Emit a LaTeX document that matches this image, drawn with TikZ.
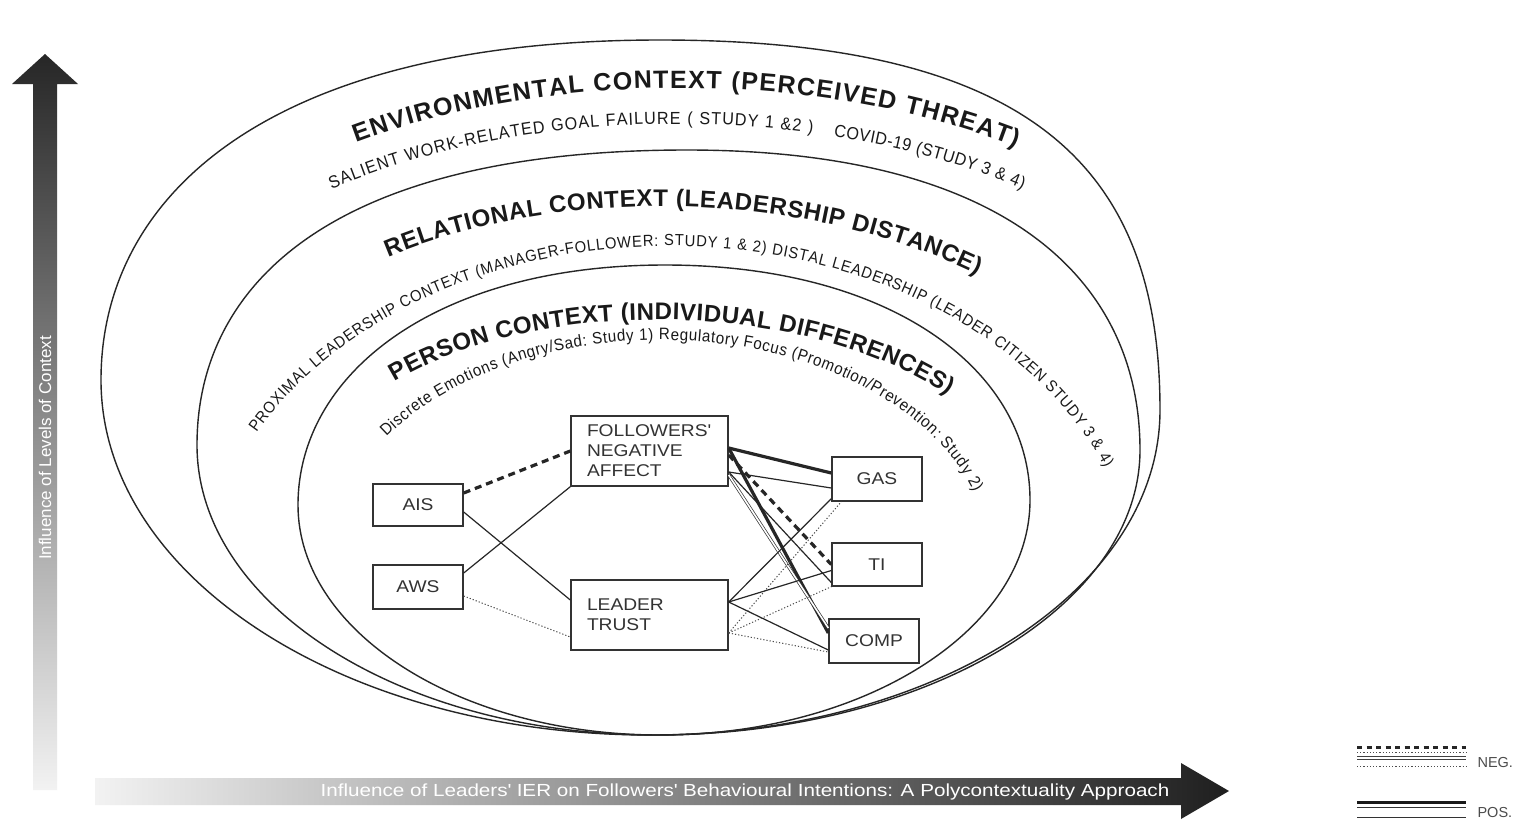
\documentclass[tikz,border=0pt]{standalone}
\usepackage{fontspec}
\setmainfont{Liberation Sans}
\newfontfamily\widesans[FakeStretch=1.13]{Liberation Sans}
\newfontfamily\widersans[FakeStretch=1.18]{Liberation Sans}
\newfontfamily\narrowsans[FakeStretch=0.92]{Liberation Sans}
\usetikzlibrary{decorations.text}

\newcommand\headfont{\fontsize{24}{28}\selectfont\bfseries}
\newcommand\bigheadfont{\fontsize{25}{29}\selectfont\bfseries}
\newcommand\arcfont{\narrowsans\fontsize{17.5}{20}\selectfont}
\newcommand\smallarcfont{\narrowsans\fontsize{16}{19}\selectfont}
\newcommand\tinyarcfont{\narrowsans\fontsize{16.5}{19}\selectfont}

\begin{document}
\begin{tikzpicture}[x=1pt,y=-1pt,
  ctx/.style={draw=black!85, line width=1.4pt},
  box/.style={draw=black!80, line width=1.4pt, rectangle, inner sep=0pt, fill=white,
    font=\widesans\fontsize{17}{20}\selectfont, text=black!80},
  posthick/.style={draw=black!85, line width=3.2pt},
  negthick/.style={draw=black!85, line width=3.2pt, dash pattern=on 7pt off 5pt},
  thinline/.style={draw=black!85, line width=1.2pt},
  dbl/.style={draw=black!80, line width=0.7pt, double=white, double distance=1.6pt},
  dotline/.style={draw=black!70, line width=1pt, dash pattern=on 1.2pt off 2pt},
  arclabel/.style={decorate, decoration={text along path, text color=black!90,
    text align={fit to path}, text={#1}}},
  legendlbl/.style={font=\fontsize{14.5}{16}\selectfont, text=black!70, anchor=west}
]
\useasboundingbox (0,0) rectangle (1524,820);
\fill[white] (0,0) rectangle (1524,820);

% axis arrows with gradients
\shade[top color=black!85, bottom color=black!5]
  (33,790) -- (33,84) -- (12,84) -- (45,54) -- (78,84) -- (57,84) -- (57,790) -- cycle;
\node[rotate=90, text=white, font=\fontsize{17}{20}\selectfont] (vlabel) at (45,448)
  {Influence of Levels of Context};
\shade[left color=black!5, right color=black!88]
  (95,778) -- (1181,778) -- (1181,763) -- (1229,791) -- (1181,819) -- (1181,805) -- (95,805) -- cycle;
\node[text=white, font=\widersans\fontsize{17.5}{20}\selectfont] (hlabel) at (745,792)
  {Influence of Leaders\textquotesingle{} IER on Followers\textquotesingle{} Behavioural Intentions: A Polycontextuality Approach};

% nested contexts (flat-topped ovals meeting at the bottom)
\draw[ctx] (660,40) .. controls (269,40) and (101,195) .. (101,380)
  .. controls (101,578) and (347,735) .. (650,735)
  .. controls (934,735) and (1160,590) .. (1160,410)
  .. controls (1160,170) and (1035,40) .. cycle;
\draw[ctx] (687,150) .. controls (334,150) and (197,283) .. (197,445)
  .. controls (197,605) and (402,735) .. (655,735)
  .. controls (923,735) and (1140,607) .. (1140,450)
  .. controls (1140,285) and (1013,150) .. cycle;
\draw[ctx] (665,265) .. controls (437,265) and (298,373) .. (298,505)
  .. controls (298,632) and (460,735) .. (660,735)
  .. controls (864,735) and (1030,630) .. (1030,500)
  .. controls (1030,370) and (891,265) .. cycle;

% curved context labels
\path[arclabel={|\bigheadfont|ENVIRONMENTAL CONTEXT (PERCEIVED THREAT)}]
  ([shift={(235:565 and 300)}]680,388) arc[start angle=235, end angle=306.5, x radius=565, y radius=300];
\path[arclabel={|\arcfont|SALIENT WORK-RELATED GOAL FAILURE ( STUDY 1 {\&}2 )}]
  ([shift={(231.5:555 and 300)}]677,424) arc[start angle=231.5, end angle=284.1, x radius=555, y radius=300];
\path[arclabel={|\arcfont|COVID-19 (STUDY 3 {\&} 4)}]
  ([shift={(286.4:555 and 300)}]677,424) arc[start angle=286.4, end angle=308.5, x radius=555, y radius=300];
\begin{scope}[rotate around={-1.7:(388,256)}]
\path[arclabel={|\headfont|RELATIONAL CONTEXT (LEADERSHIP DISTANCE)}]
  ([shift={(232.1:480 and 280)}]683,478) arc[start angle=232.1, end angle=307.9, x radius=480, y radius=280];
\end{scope}
\path[arclabel={|\smallarcfont|PROXIMAL LEADERSHIP CONTEXT (MANAGER-FOLLOWER: STUDY 1 {\&} 2) DISTAL LEADERSHIP (LEADER CITIZEN STUDY 3 {\&} 4)}]
  ([shift={(208.2:469 and 354)}]670,600) arc[start angle=208.2, end angle=338.1, x radius=469, y radius=354];
\begin{scope}[rotate around={-1.4:(673,320)}]
\path[arclabel={|\headfont|PERSON CONTEXT (INDIVIDUAL DIFFERENCES)}]
  ([shift={(219.8:360 and 190)}]673,510) arc[start angle=219.8, end angle=320.2, x radius=360, y radius=190];
\end{scope}
\path[arclabel={|\tinyarcfont|Discrete Emotions (Angry/Sad: Study 1) Regulatory Focus (Promotion/Prevention: Study 2)}]
  ([shift={(214:330 and 220)}]660,560) arc[start angle=214, end angle=342, x radius=330, y radius=220];

% model boxes
\node[box, minimum width=90pt, minimum height=42pt] (ais) at (418,505) {AIS};
\node[box, minimum width=90pt, minimum height=44pt] (aws) at (418,587) {AWS};
\node[box, minimum width=157pt, minimum height=70pt, text width=125pt, align=left] (fna) at (649.5,451)
  {FOLLOWERS\textquotesingle\\NEGATIVE\\AFFECT};
\node[box, minimum width=157pt, minimum height=70pt, text width=125pt, align=left] (lt) at (649.5,615)
  {LEADER\\TRUST};
\node[box, minimum width=90pt, minimum height=44pt] (gas) at (877,479) {GAS};
\node[box, minimum width=90pt, minimum height=43pt] (ti) at (877,564.5) {TI};
\node[box, minimum width=90pt, minimum height=44pt] (comp) at (874,641) {COMP};

% paths from the predictors
\draw[negthick] ([yshift=12pt]ais.east) -- (fna.west);
\draw[thinline] ([yshift=-7pt]ais.east) -- ([yshift=15pt]lt.west);
\draw[thinline] ([yshift=14pt]aws.east) -- (fna.south west);
\draw[dotline] ([yshift=-9pt]aws.east) -- ([yshift=-22pt]lt.west);

% paths from negative affect
\draw[posthick] ([yshift=3pt]fna.east) -- ([yshift=6pt]gas.west);
\draw[thinline] ([yshift=-21pt]fna.east) -- ([yshift=-9pt]gas.west);
\draw[negthick] ([yshift=-4pt]fna.east) -- (ti.west);
\draw[posthick] ([yshift=3pt]fna.east) -- ([yshift=8pt]comp.west);
\draw[thinline] ([yshift=-21pt]fna.east) -- ([yshift=-18pt]ti.west);
\draw[dbl] ([yshift=-24pt]fna.east) -- ([yshift=13pt]comp.west);

% paths from leader trust
\draw[thinline] ([yshift=13pt]lt.east) -- ([yshift=3pt]gas.south west);
\draw[thinline] ([yshift=13pt]lt.east) -- ([yshift=-6pt]ti.west);
\draw[thinline] ([yshift=13pt]lt.east) -- ([yshift=-9pt]comp.west);
\draw[dotline] ([yshift=-18pt]lt.east) -- ([xshift=10pt]gas.south west);
\draw[dotline] ([yshift=-18pt]lt.east) -- (ti.south west);
\draw[dotline] ([yshift=-18pt]lt.east) -- ([yshift=-11pt]comp.west);

% legend
\draw[black!85, line width=3pt, dash pattern=on 5pt off 4.5pt] (1357,747) -- (1466,747);
\draw[black!70, line width=1pt, dash pattern=on 1.2pt off 2pt] (1357,752) -- (1466,752);
\draw[black!75, line width=0.9pt] (1357,756) -- (1466,756);
\draw[black!75, line width=0.9pt] (1357,759.5) -- (1466,759.5);
\draw[black!70, line width=1pt, dash pattern=on 1.2pt off 2pt] (1357,766) -- (1466,766);
\node[legendlbl] (neglbl) at (1474,762) {NEG.};
\draw[black!90, line width=3pt] (1357,802) -- (1466,802);
\draw[black!80, line width=1pt] (1357,807.5) -- (1466,807.5);
\draw[black!80, line width=1pt] (1357,817) -- (1466,817);
\node[legendlbl] (poslbl) at (1474,812) {POS.};
\end{tikzpicture}
\end{document}
